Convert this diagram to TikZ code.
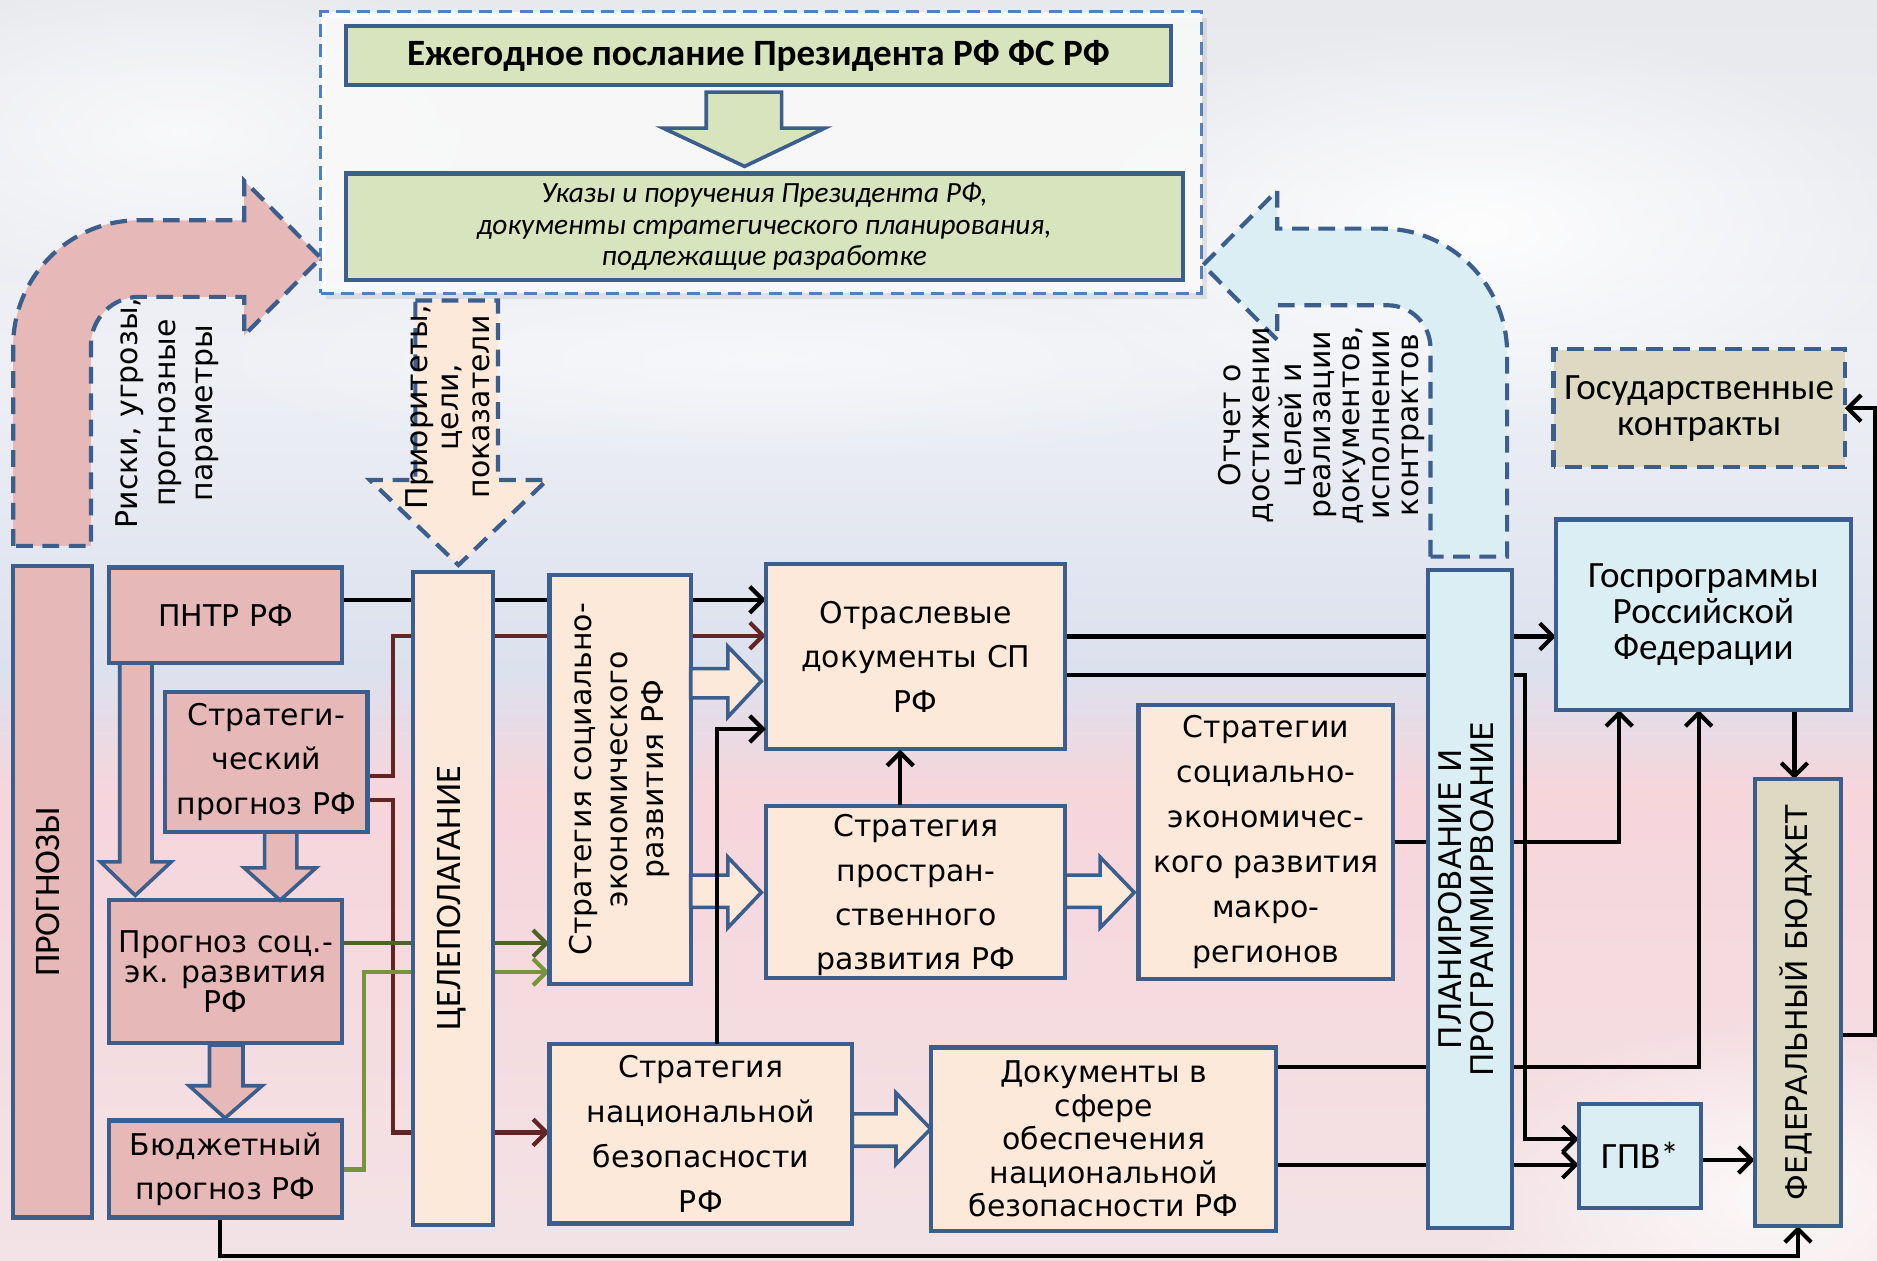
\documentclass[tikz,border=0pt]{standalone}
\usepackage{fontspec}
\setmainfont{Carlito}
\newfontfamily\dv{DejaVu Sans}
\usetikzlibrary{arrows.meta,fadings}
\tikzfading[name=softout, inner color=transparent!0, outer color=transparent!100]
\definecolor{bord}{HTML}{3B5E8C}
\definecolor{dashb}{HTML}{4F81BD}
\definecolor{pinkf}{HTML}{E6B9B8}
\definecolor{peach}{HTML}{FDE9D9}
\definecolor{lblue}{HTML}{DBEEF4}
\definecolor{tanf}{HTML}{DDD9C3}
\definecolor{lgreen}{HTML}{D7E4BD}
\definecolor{dred}{HTML}{632523}
\definecolor{dgreen}{HTML}{4F6228}
\definecolor{mgreen}{HTML}{77933C}
\definecolor{bgA}{HTML}{E8E9ED}
\definecolor{bgB}{HTML}{EEF0F5}
\definecolor{bgC}{HTML}{DCE1EE}
\definecolor{bgD}{HTML}{F6D5DB}
\definecolor{bgE}{HTML}{F3E3E6}
\newcommand\vtext[1]{\rotatebox{90}{\begin{tabular}{@{}c@{}}#1\end{tabular}}}
\begin{document}
\begin{tikzpicture}[x=1pt,y=-1pt,
  box/.style={draw=bord, line width=3.5pt, inner sep=1pt, align=center},
  dvf/.style={font={\dv\fontsize{25}{#1}\selectfont}},
  cbf/.style={font={\fontsize{#1}{30}\selectfont}},
  conn/.style={line width=3.5pt, -{Straight Barb[length=11pt,width=22pt]}},
  barrow/.style={draw=bord, line width=3pt, line join=miter},
  darrow/.style={draw=bord, line width=3.5pt, dash pattern=on 14pt off 8pt},
]
\useasboundingbox (0,0) rectangle (1568,1053);
% background
\fill[top color=bgA, bottom color=bgB] (0,0) rectangle (1568,300);
\fill[top color=bgB, bottom color=bgC] (0,299) rectangle (1568,560);
\fill[top color=bgC, bottom color=bgD] (0,559) rectangle (1568,660);
\fill[top color=bgD, bottom color=bgE] (0,659) rectangle (1568,1053);
\fill[white, path fading=softout, opacity=0.9] (1230,190) ellipse [x radius=380pt, y radius=170pt];
\fill[white, path fading=softout, opacity=0.7] (150,110) ellipse [x radius=300pt, y radius=140pt];
\fill[white, path fading=softout, opacity=0.8] (1480,1000) ellipse [x radius=260pt, y radius=150pt];
\fill[white, path fading=softout, opacity=0.5] (640,300) ellipse [x radius=500pt, y radius=90pt];

% top frame
\fill[black, opacity=0.08] (272,15) rectangle (1008,250);
\node[draw=dashb, line width=2.5pt, dash pattern=on 11pt off 6pt, fill=white, fill opacity=0.8,
  minimum width=736pt, minimum height=235pt] (frame) at (636,127.5) {};
\node[box, fill=lgreen, minimum width=689pt, minimum height=49pt,
  font={\bfseries\fontsize{31}{32}\selectfont}] (title) at (633.5,46.5) {Ежегодное послание Президента РФ ФС РФ};
\node[box, fill=lgreen, minimum width=699pt, minimum height=89pt,
  font={\itshape\fontsize{24.5}{26.5}\selectfont}] (ukaz) at (638.5,189.5)
  {Указы и поручения Президента РФ,\\документы стратегического планирования,\\подлежащие разработке};
\draw[barrow, fill=lgreen] (590,77) -- (653,77) -- (653,107) -- (689,107) -- (622,139) -- (554,107) -- (590,107) -- cycle;

% big dashed arrows
\draw[darrow, fill=pinkf] (11,456) -- (11,289) .. controls (11,231) and (58,184) .. (116,184)
  -- (204,184) -- (204,151) -- (268,215.5) -- (204,280) -- (204,248) -- (116,248)
  .. controls (94,248) and (76,266) .. (76,288) -- (76,456) -- cycle;
\draw[darrow, fill=lblue] (1195,465) -- (1195,291) .. controls (1195,271) and (1179,255) .. (1159,255)
  -- (1067,255) -- (1067,284) -- (1005,221.5) -- (1067,159) -- (1067,191) -- (1155,191)
  .. controls (1212,191) and (1259,238) .. (1259,295) -- (1259,465) -- cycle;
\draw[darrow, fill=peach] (347,251) -- (416,251) -- (416,401) -- (457,401) -- (383,472) -- (309,401) -- (347,401) -- cycle;
\node[dvf=31] (risk) at (140,345) {\vtext{Риски, угрозы,\\прогнозные\\параметры}};
\node[dvf=26] (prio) at (378,340) {\vtext{Приоритеты,\\цели,\\показатели}};
\node[dvf=24.4] (rep) at (1105,355) {\vtext{Отчет о\\достижении\\целей и\\реализации\\документов,\\исполнении\\контрактов}};

% anchor nodes
\path
  (188.5,514) node[minimum width=195pt, minimum height=80pt, inner sep=0] (pntr) {}
  (222.5,636.5) node[minimum width=169pt, minimum height=117pt, inner sep=0] (strat) {}
  (188.5,813.5) node[minimum width=195pt, minimum height=119pt, inner sep=0] (psed) {}
  (188.5,976.5) node[minimum width=195pt, minimum height=81pt, inner sep=0] (bud) {}
  (518,651) node[minimum width=118pt, minimum height=342pt, inner sep=0] (sser) {}
  (765,548.5) node[minimum width=250pt, minimum height=155pt, inner sep=0] (otr) {}
  (765,745) node[minimum width=250pt, minimum height=144pt, inner sep=0] (spr) {}
  (1057.5,703.5) node[minimum width=213pt, minimum height=229pt, inner sep=0] (macro) {}
  (585.5,947) node[minimum width=253pt, minimum height=150pt, inner sep=0] (nb) {}
  (922,951.5) node[minimum width=288pt, minimum height=153pt, inner sep=0] (dnb) {}
  (1423,513.5) node[minimum width=246pt, minimum height=159pt, inner sep=0] (gp) {}
  (1419.5,341) node[minimum width=243pt, minimum height=98pt, inner sep=0] (gk) {}
  (1370,965.5) node[minimum width=102pt, minimum height=87pt, inner sep=0] (gpv) {}
  (1502,837.5) node[minimum width=72pt, minimum height=373pt, inner sep=0] (fb) {};

\draw[conn] (pntr.east |- 0,501) -- (otr.west |- 0,501);
\draw[conn, dred] (strat.east |- 0,648) -- (328,648) -- (328,531) -- (otr.west |- 0,531);
\draw[conn, dred] (strat.east |- 0,668) -- (328,668) -- (328,946) -- (nb.west |- 0,946);
\draw[conn, dgreen] (psed.east |- 0,788) -- (sser.west |- 0,788);
\draw[conn, mgreen] (bud.east |- 0,977) -- (304,977) -- (304,812) -- (sser.west |- 0,812);
\draw[conn] (bud.south -| 184,0) -- (184,1049) -- (1502,1049) -- (fb.south -| 1502,0);
\draw[conn] (otr.east |- 0,531.7) -- (gp.west |- 0,531.7);
\draw[conn] (otr.east |- 0,564) -- (1274,564) -- (1274,951.6) -- (gpv.west |- 0,951.6);
\draw[conn] (macro.east |- 0,703.5) -- (1352.6,703.5) -- (gp.south -| 1352.6,0);
\draw[conn] (dnb.east |- 0,891) -- (1419,891) -- (gp.south -| 1419,0);
\draw[conn] (dnb.east |- 0,973) -- (gpv.west |- 0,973);
\draw[conn] (gpv.east |- 0,969) -- (fb.west |- 0,969);
\draw[conn] (gp.south -| 1499,0) -- (fb.north -| 1499,0);
\draw[conn] (fb.east |- 0,864.7) -- (1566,864.7) -- (1566,341) -- (gk.east);

% boxes
\node[box, fill=pinkf, minimum width=66pt, minimum height=544pt, cbf=30] (prog) at (44,745) {\vtext{ПРОГНОЗЫ}};
\node[box, fill=pinkf, minimum width=195pt, minimum height=80pt, dvf=37] at (pntr) {ПНТР РФ};
\node[box, fill=pinkf, minimum width=169pt, minimum height=117pt, dvf=37] at (strat) {Стратеги-\\ческий\\прогноз РФ};
\node[box, fill=pinkf, minimum width=195pt, minimum height=119pt, dvf=25] at ([yshift=2pt]psed) {Прогноз соц.-\\эк. развития\\РФ};
\node[box, fill=pinkf, minimum width=195pt, minimum height=81pt, dvf=37] at (bud) {Бюджетный\\прогноз РФ};
\node[box, fill=peach, minimum width=67pt, minimum height=545pt, cbf=30] (cel) at (378.5,750.5) {\vtext{ЦЕЛЕПОЛАГАНИЕ}};
\node[box, fill=peach, minimum width=118pt, minimum height=342pt, dvf=30] at (sser) {\vtext{Стратегия социально-\\экономического\\развития РФ}};
\node[box, fill=peach, minimum width=250pt, minimum height=155pt, dvf=37] at (otr) {Отраслевые\\документы СП\\РФ};
\node[box, fill=peach, minimum width=250pt, minimum height=144pt, dvf=37] at (spr) {};
\node[dvf=37, align=center] at ([yshift=-3pt]spr) {Стратегия\\простран-\\ственного\\развития РФ};
\node[box, fill=peach, minimum width=213pt, minimum height=229pt, dvf=37.5] at (macro) {Стратегии\\социально-\\экономичес-\\кого развития\\макро-\\регионов};
\node[box, fill=peach, minimum width=253pt, minimum height=150pt, dvf=37.5] at (nb) {Стратегия\\национальной\\безопасности\\РФ};
\node[box, fill=peach, minimum width=288pt, minimum height=153pt, dvf=28] at (dnb) {Документы в\\сфере\\обеспечения\\национальной\\безопасности РФ};
\node[box, fill=lblue, minimum width=70pt, minimum height=550pt, font={\dv\fontsize{26}{25}\selectfont}] (plan) at (1228,751) {\vtext{ПЛАНИРОВАНИЕ И\\ПРОГРАММИРВОАНИЕ}};
\node[box, fill=lblue, minimum width=246pt, minimum height=159pt, cbf=31] at (gp) {Госпрограммы\\Российской\\Федерации};
\node[box, draw=none, fill=tanf, minimum width=243pt, minimum height=98pt, cbf=31] at (gk) {Государственные\\контракты};
\draw[darrow] (gk.south west) rectangle (gk.north east);
\node[box, fill=lblue, minimum width=102pt, minimum height=87pt, cbf=31] at (gpv) {ГПВ*};
\node[box, fill=tanf, minimum width=72pt, minimum height=373pt, font={\dv\fontsize{25}{26}\selectfont}] at (fb) {\vtext{ФЕДЕРАЛЬНЫЙ БЮДЖЕТ}};

% block arrows
\draw[barrow, fill=pinkf] (100,554) -- (127,554) -- (127,720) -- (143,720) -- (113,748) -- (84,720) -- (100,720) -- cycle;
\draw[barrow, fill=pinkf] (221,695) -- (248,695) -- (248,725) -- (264,725) -- (234,752) -- (204,725) -- (221,725) -- cycle;
\draw[barrow, fill=pinkf] (175,873) -- (203,873) -- (203,907) -- (219,907) -- (188,934) -- (158,907) -- (175,907) -- cycle;
\draw[barrow, fill=peach] (577,558.5) -- (608,558.5) -- (608,540) -- (636,569) -- (608,599) -- (608,583) -- (577,583) -- cycle;
\draw[barrow, fill=peach] (577,731) -- (608,731) -- (608,716) -- (636,745.5) -- (608,775) -- (608,758) -- (577,758) -- cycle;
\draw[barrow, fill=peach] (890,731) -- (919,731) -- (919,716) -- (947.5,745.5) -- (919,775) -- (919,758) -- (890,758) -- cycle;
\draw[barrow, fill=peach] (712,930.5) -- (748.5,930.5) -- (748.5,913) -- (777.5,943) -- (748.5,972.5) -- (748.5,957.5) -- (712,957.5) -- cycle;

% connectors drawn over block arrows
\draw[conn] (nb.north -| 599,0) -- (599,609) -- (otr.west |- 0,609);
\draw[conn] (spr.north -| 752,0) -- (otr.south -| 752,0);
\end{tikzpicture}
\end{document}
